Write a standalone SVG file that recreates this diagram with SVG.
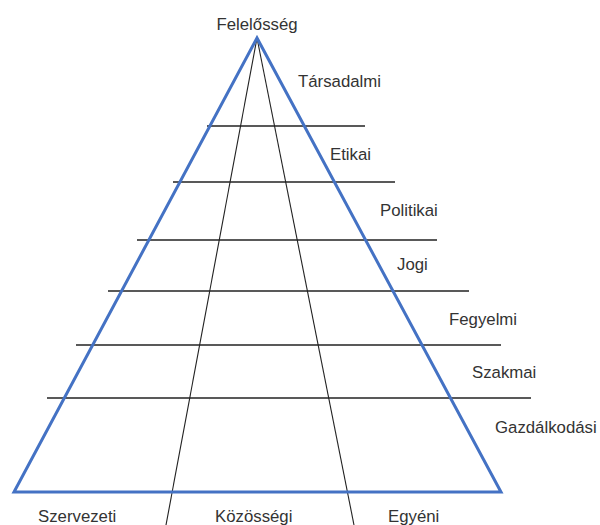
<svg xmlns="http://www.w3.org/2000/svg" width="600" height="525" viewBox="0 0 600 525">
<style>
text{font-family:"Liberation Sans","DejaVu Sans",sans-serif;font-size:16.8px;fill:#333}
.h{stroke:#222;stroke-width:1.3}
.r{stroke:#222;stroke-width:1.1;fill:none}
.tri{fill:none;stroke:#4472C4;stroke-width:3;stroke-linejoin:miter}
</style>
<rect width="600" height="525" fill="#fff"/>
<g id="connectors">
<line class="r" x1="257" y1="38" x2="166" y2="525"/>
<line class="r" x1="257" y1="38" x2="354" y2="525"/>
<line class="h" x1="207" y1="126" x2="365" y2="126"/>
<line class="h" x1="173" y1="182" x2="395" y2="182"/>
<line class="h" x1="137" y1="240" x2="437" y2="240"/>
<line class="h" x1="108" y1="291" x2="469" y2="291"/>
<line class="h" x1="76" y1="345" x2="501" y2="345"/>
<line class="h" x1="47" y1="398" x2="531" y2="398"/>
</g>
<g id="pyramid"><polygon class="tri" points="257,38 14,492 501,492"/></g>
<g id="labels">
<text x="257" y="30" text-anchor="middle">Felelősség</text>
<text x="298" y="87">Társadalmi</text>
<text x="330" y="160">Etikai</text>
<text x="380" y="216">Politikai</text>
<text x="397" y="270">Jogi</text>
<text x="449" y="325">Fegyelmi</text>
<text x="472" y="378">Szakmai</text>
<text x="495" y="433">Gazdálkodási</text>
<text x="38" y="522">Szervezeti</text>
<text x="215" y="522">Közösségi</text>
<text x="388" y="522">Egyéni</text>
</g>
</svg>
